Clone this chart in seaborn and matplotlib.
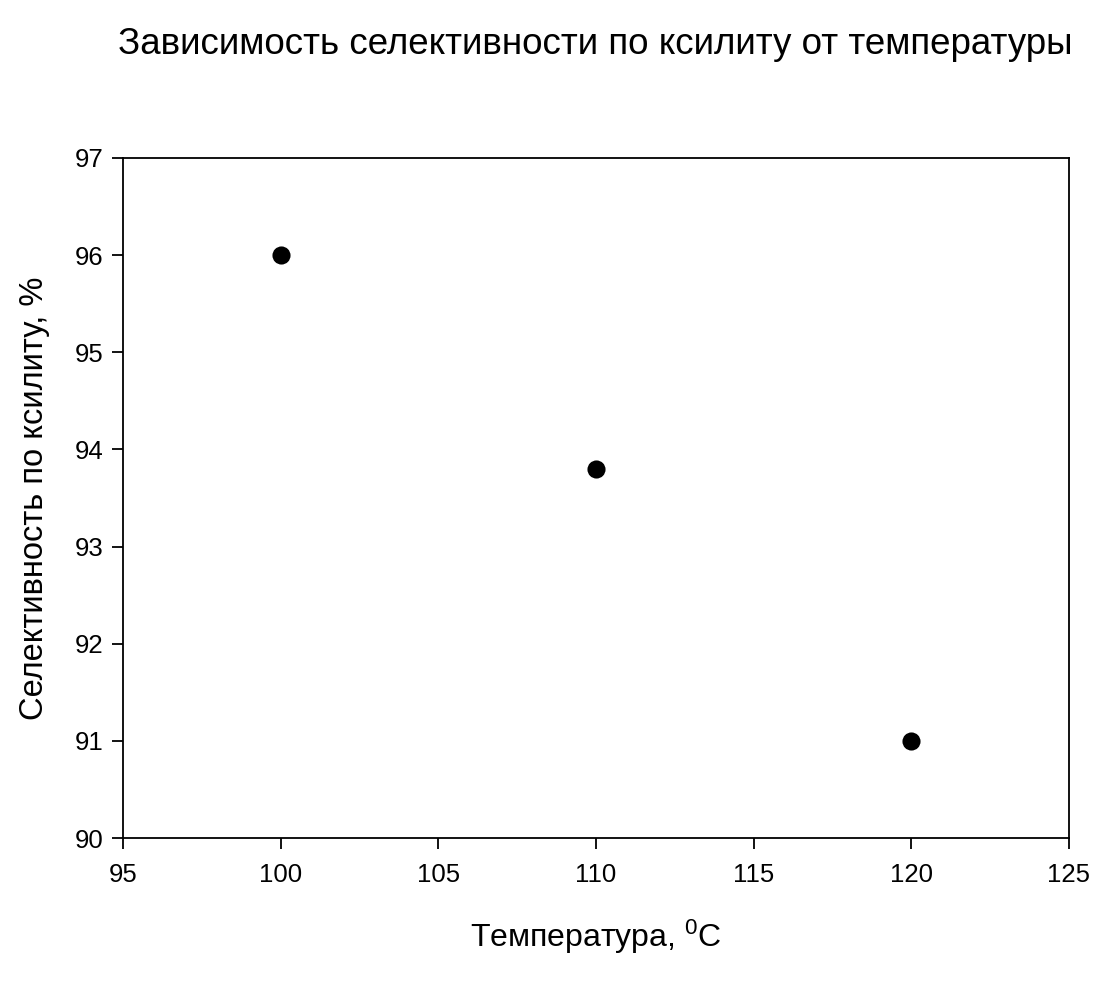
import matplotlib
matplotlib.use("Agg")
import matplotlib.pyplot as plt
import seaborn as sns
import pandas as pd

temperature = [100, 110, 120]
selectivity = [96.0, 93.8, 91.0]
x_ticks = [95, 100, 105, 110, 115, 120, 125]
y_ticks = [90, 91, 92, 93, 94, 95, 96, 97]

sns.set_theme(style="ticks")
plt.rcParams['font.family'] = ['Liberation Sans', 'DejaVu Sans']
plt.rcParams['mathtext.fontset'] = 'custom'
plt.rcParams['mathtext.rm'] = 'Liberation Sans'
plt.rcParams['mathtext.it'] = 'Liberation Sans'
plt.rcParams['text.color'] = 'black'
plt.rcParams['axes.labelcolor'] = 'black'

df = pd.DataFrame({"T": temperature, "S": selectivity})

fig = plt.figure(figsize=(11.02, 9.86), dpi=100)
ax = fig.add_axes([0.1116, 0.150, 0.8584, 0.6898])
sns.scatterplot(data=df, x="T", y="S", ax=ax, color="black", s=170,
                edgecolor="black", linewidth=0, zorder=3)

ax.set_xlim(95, 125)
ax.set_ylim(90, 97)
ax.set_xticks(x_ticks)
ax.set_yticks(y_ticks)
ax.tick_params(direction="out", length=8, width=1.3, labelsize=18.5, colors="black")
ax.tick_params(axis="x", pad=10)
ax.tick_params(axis="y", pad=6)
for sp in ax.spines.values():
    sp.set_visible(True)
    sp.set_linewidth(1.3)
    sp.set_color("black")

ax.set_xlabel("Температура, $^{0}$C", fontsize=23, labelpad=22)
ax.set_ylabel("Селективность по ксилиту, %", fontsize=23.5, labelpad=18)
fig.text(0.540, 0.955, "Зависимость селективности по ксилиту от температуры",
         ha="center", va="center", fontsize=26.5)

fig.savefig("out.png", dpi=100)
